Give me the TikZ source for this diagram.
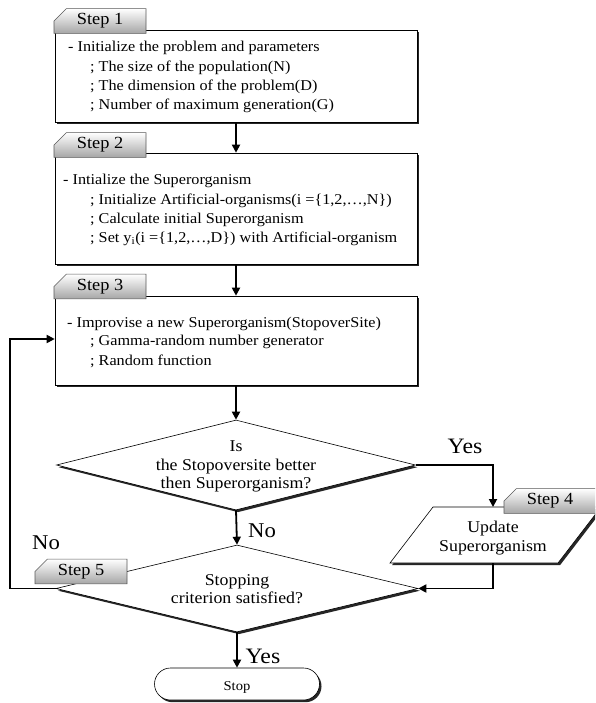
\documentclass[tikz,border=0pt]{standalone}
\usepackage{fontspec}
\setmainfont[FakeStretch=1.08]{Liberation Serif}
\usetikzlibrary{shapes.geometric,shapes.misc,shadows,arrows.meta}
\begin{document}
\begin{tikzpicture}[x=1pt,y=-1pt,
  shad/.style={drop shadow={shadow xshift=2pt,shadow yshift=-2.2pt,fill=black!85,opacity=1}},
  box/.style={draw=black,line width=0.6pt,fill=white,shad,inner sep=0,minimum width=362pt},
  tab/.style={chamfered rectangle,chamfered rectangle corners=north west,
    chamfered rectangle xsep=15pt,chamfered rectangle ysep=5pt,
    draw=black!65,line width=0.6pt,top color=white,bottom color=black!35,
    minimum width=92pt,minimum height=24pt,inner sep=0pt,
    font=\fontsize{17}{20}\selectfont},
  dia/.style={diamond,draw=black,line width=0.6pt,fill=white,shad,inner sep=0},
  txt/.style={anchor=base west,inner sep=0,font=\fontsize{15}{18}\selectfont},
  ctxt/.style={anchor=base,inner sep=0,font=\fontsize{16.5}{19}\selectfont},
  lab/.style={anchor=base,inner sep=0,font=\fontsize{21}{24}\selectfont},
  arr/.style={line width=1.8pt,-{Triangle[length=8pt,width=8pt]}},
  ln/.style={line width=1.8pt}]
\clip (0,0) rectangle (595,703);
\fill[white] (0,0) rectangle (595,703);

% boxes
\node[box,minimum height=92pt] (box1) at (236,76) {};
\node[box,minimum height=111pt] (box2) at (236,208.5) {};
\node[box,minimum height=89pt] (box3) at (236,340.5) {};

% tabs
\node[tab] (step1) at (100,21) {Step 1};
\node[tab] (step2) at (100,145) {Step 2};
\node[tab] (step3) at (100,286.5) {Step 3};

% box texts
\node[txt] (b1a) at (68,52) {- Initialize the problem and parameters};
\node[txt] (b1b) at (90,71.5) {; The size of the population(N)};
\node[txt] (b1c) at (90,91) {; The dimension of the problem(D)};
\node[txt] (b1d) at (90,110) {; Number of maximum generation(G)};

\node[txt] (b2a) at (63,185) {- Intialize the Superorganism};
\node[txt] (b2b) at (90,205) {; Initialize Artificial-organisms(i =\{1,2,\ldots,N\})};
\node[txt] (b2c) at (90,223) {; Calculate initial Superorganism};
\node[txt] (b2d) at (90,242) {; Set y\textsubscript{i}(i =\{1,2,\ldots,D\}) with Artificial-organism};

\node[txt] (b3a) at (67,327) {- Improvise a new Superorganism(StopoverSite)};
\node[txt] (b3b) at (90,345) {; Gamma-random number generator};
\node[txt] (b3c) at (90,365) {; Random function};

% diamonds
\node[dia,minimum width=359pt,minimum height=90pt] (d1) at (236,465) {};
\node[dia,minimum width=362pt,minimum height=87pt] (d2) at (237,588.5) {};

\node[ctxt] (d1a) at (236,451) {Is};
\node[ctxt] (d1b) at (236,470) {the Stopoversite better};
\node[ctxt] (d1c) at (236,488) {then Superorganism?};
\node[ctxt] (d2a) at (237,585) {Stopping};
\node[ctxt] (d2b) at (237,603) {criterion satisfied?};

% parallelogram
\coordinate (pa) at (390,563);
\coordinate (pb) at (433,507);
\coordinate (pc) at (601,507);
\coordinate (pd) at (558,563);
\coordinate (ptop) at (493,507);
\coordinate (pbot) at (493,563);
\path[draw=black,line width=0.6pt,fill=white,shad] (pa) -- (pb) -- (pc) -- (pd) -- cycle;
\node[ctxt] (up1) at (493,532) {Update};
\node[ctxt] (up2) at (493,551) {Superorganism};

\node[tab] (step4) at (550,501) {Step 4};
\node[tab,minimum height=23pt] (step5) at (81,571.5) {Step 5};

% stop
\node[rounded rectangle,draw=black,line width=0.6pt,fill=white,shad,
  minimum width=165pt,minimum height=32pt,inner sep=0] (stop) at (237,684) {};
\node[anchor=base,inner sep=0,font=\fontsize{13.5}{16}\selectfont] (stopt) at (237,690) {Stop};

% connectors
\draw[arr] (box1.south) -- (box2.north);
\draw[arr] (box2.south) -- (box3.north);
\draw[arr] (box3.south) -- (d1.north);
\draw[arr] (d1.south) -- (d2.north);
\draw[arr] (d1.east) -| (ptop);
\draw[arr] (pbot) |- (d2.east);
\draw[arr] (d2.south) -- (stop.north);
\coordinate (lp) at (10,339);
\draw[arr] (d2.west) -| (lp) -- (box3.west |- lp);

% labels
\node[lab,font=\fontsize{22}{24}\selectfont] (yes1) at (465,453) {Yes};
\node[lab] (no1) at (262,537) {No};
\node[lab] (no2) at (46,549) {No};
\node[lab,font=\fontsize{22}{24}\selectfont] (yes2) at (263,663) {Yes};
\end{tikzpicture}
\end{document}
